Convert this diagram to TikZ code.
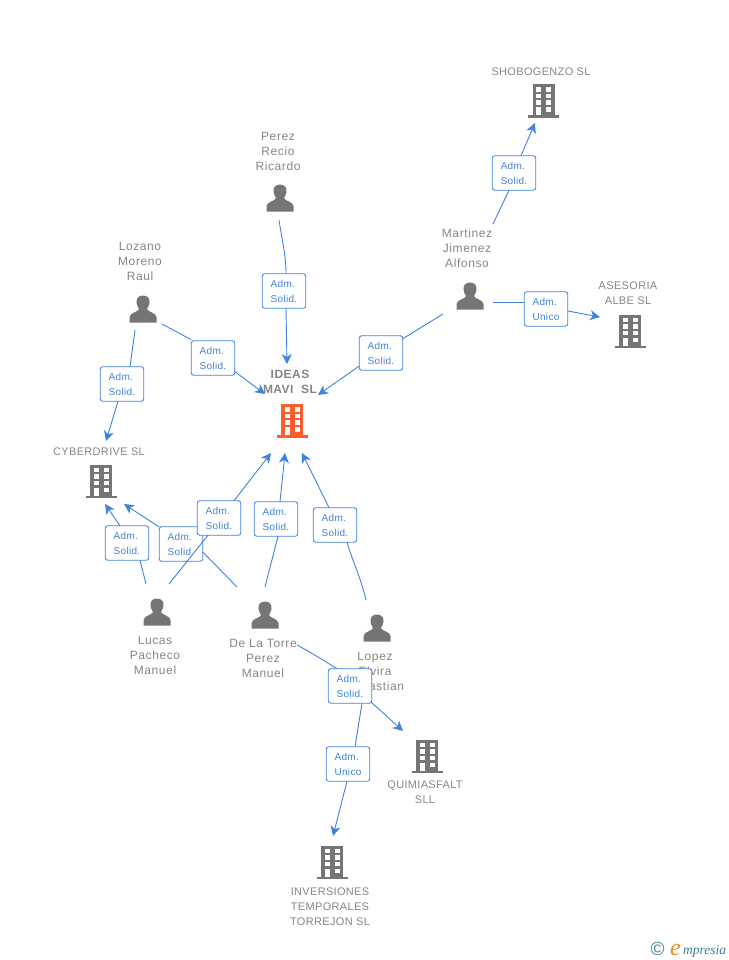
\documentclass[tikz,border=0pt]{standalone}
\usepackage{fontspec}
\setmainfont{Liberation Sans}
\newfontfamily\logofont{Liberation Serif}
\usetikzlibrary{arrows.meta}
\definecolor{linkblue}{HTML}{3F83E0}
\definecolor{labelgray}{HTML}{858585}
\definecolor{icongray}{HTML}{757575}
\definecolor{iconred}{HTML}{FF5C2E}
\definecolor{logoteal}{HTML}{3A7F95}
\definecolor{logoorange}{HTML}{F08A1D}
\tikzset{
  every node/.style={inner sep=0pt, outer sep=0pt},
  link/.style={linkblue, line width=0.9pt},
  linkto/.style={link, -{Stealth[length=10pt, width=10pt, inset=3pt]}},
  rolebox/.style={draw=linkblue, line width=0.9pt, rounded corners=2.5pt, fill=white,
    minimum width=43.5pt, minimum height=34.5pt, text=linkblue, align=left,
    font=\fontsize{10}{15}\selectfont\addfontfeature{LetterSpace=3}},
  person/.style={minimum width=28pt, minimum height=28pt, path picture={
    \begin{scope}[shift={(path picture bounding box.center)}]
      \fill[icongray] (0,-13.5) .. controls (-5,-13.5) and (-7,-10) .. (-6.5,-6)
        .. controls (-6.2,-3) and (-4.5,-1.5) .. (-4,0)
        .. controls (-4.5,3) and (-13,3.5) .. (-13.5,8) -- (-13.5,13.5) -- (13.5,13.5) -- (13.5,8)
        .. controls (13,3.5) and (4.5,3) .. (4,0)
        .. controls (4.5,-1.5) and (6.2,-3) .. (6.5,-6)
        .. controls (7,-10) and (5,-13.5) .. (0,-13.5) -- cycle;
    \end{scope}}},
  building/.style={minimum width=32pt, minimum height=36pt, path picture={
    \begin{scope}[shift={(path picture bounding box.center)}]
      \fill[#1] (-11,-16.5) rectangle (11,15);
      \fill[#1] (-15.5,14.5) rectangle (15.5,17);
      \foreach \yy in {-13.5,-7,-0.5} {
        \fill[white] (-7.5,\yy) rectangle (-2.5,{\yy+4.5});
        \fill[white] (2.5,\yy) rectangle (7.5,{\yy+4.5});
      }
      \fill[white] (-7.5,6.5) rectangle (-2.5,14.5);
      \fill[white] (2.5,6.5) rectangle (7.5,11);
    \end{scope}}},
  building/.default=icongray,
  personname/.style={text=labelgray, align=center, font=\fontsize{12}{15}\selectfont\addfontfeature{LetterSpace=5}},
  firmname/.style={text=labelgray, align=center, font=\fontsize{11}{15}\selectfont\addfontfeature{LetterSpace=3}},
}
\begin{document}
\begin{tikzpicture}[x=1pt, y=-1pt]
    \useasboundingbox (0,0) rectangle (728,960);
    % people
    \node[person] (perez) at (280,198) {};
    \node[person] (lozano) at (143,309) {};
    \node[person] (martinez) at (470,296) {};
    \node[person] (lucas) at (157,612) {};
    \node[person] (torre) at (265,615) {};
    \node[person] (lopez) at (377,628) {};
    \node[personname] (perezname) at (278,151) {Perez\\Recio\\Ricardo};
    \node[personname] (lozanoname) at (140,261) {Lozano\\Moreno\\Raul};
    \node[personname] (martinezname) at (467,248) {Martinez\\Jimenez\\Alfonso};
    \node[personname] (lucasname) at (155,655) {Lucas\\Pacheco\\Manuel};
    \node[personname] (torrename) at (263,658) {De La Torre\\Perez\\Manuel};
    \node[personname] (lopezname) at (375,671) {Lopez\\Elvira\\Sebastian};
    % companies
    \node[building] (shobogenzo) at (543.5,101) {};
    \node[building] (asesoria) at (630,331) {};
    \node[building=iconred] (ideas) at (292,420.5) {};
    \node[building] (cyberdrive) at (101,481) {};
    \node[building] (quimiasfalt) at (427,756) {};
    \node[building] (inversiones) at (332,862) {};
    \node[firmname] (shobogenzoname) at (541,71.5) {SHOBOGENZO SL};
    \node[firmname] (asesorianame) at (628,293) {ASESORIA\\ALBE SL};
    \node[firmname, font=\fontsize{12}{15}\selectfont\bfseries\addfontfeature{LetterSpace=4}] (ideasname) at (290,382) {IDEAS\\MAVI\ \ SL};
    \node[firmname] (cyberdrivename) at (99,451.5) {CYBERDRIVE SL};
    \node[firmname] (quimiasfaltname) at (425,792.5) {QUIMIASFALT\\SLL};
    \node[firmname] (inversionesname) at (330,906.5) {INVERSIONES\\TEMPORALES\\TORREJON SL};
    % role boxes
    \node[rolebox] (roleperez) at (284,291) {Adm.\\Solid.};
    \node[rolebox] (rolelozano) at (213,358) {Adm.\\Solid.};
    \node[rolebox] (rolelozanob) at (122,384) {Adm.\\Solid.};
    \node[rolebox] (rolemartinez) at (381,353) {Adm.\\Solid.};
    \node[rolebox] (rolemartinezb) at (514,173) {Adm.\\Solid.};
    \node[rolebox] (rolemartinezc) at (546,309) {Adm.\\Unico};
    \node[rolebox] (roletorre) at (276,519) {Adm.\\Solid.};
    \node[rolebox] (rolelopez) at (335,525) {Adm.\\Solid.};
    \node[rolebox] (rolelucasb) at (127,543) {Adm.\\Solid.};
    \node[rolebox] (roletorreb) at (181,544) {Adm.\\Solid.};
    \node[rolebox] (rolelucas) at (219,518) {Adm.\\Solid.};
    \node[rolebox] (roletorrec) at (350,686) {Adm.\\Solid.};
    \node[rolebox] (roletorred) at (348,764) {Adm.\\Unico};
    % free ends
    \coordinate (a1) at (279,220);   \coordinate (e1) at (287,364);
    \coordinate (a2) at (162,324);   \coordinate (e2) at (265,394);
    \coordinate (a3) at (135,330);   \coordinate (e3) at (106,441);
    \coordinate (a4) at (443,314);   \coordinate (e4) at (318,395);
    \coordinate (a5) at (493,224);   \coordinate (e5) at (535,123);
    \coordinate (a6) at (493,302);   \coordinate (e6) at (600,317);
    \coordinate (a7) at (169,584);   \coordinate (e7) at (271,453);
    \coordinate (a8) at (265,587);   \coordinate (e8) at (285,453);
    \coordinate (a9) at (366,600);   \coordinate (e9) at (302,453);
    \coordinate (a10) at (146,584);  \coordinate (e10) at (105,504);
    \coordinate (a11) at (237,587);  \coordinate (e11) at (124,504);
    \coordinate (a12) at (297,645);  \coordinate (e12) at (403,731);
    \coordinate (e13) at (333,836);
    % links
    \draw[link] (a1) .. controls (282,240) and (286,255) .. ([xshift=2pt]roleperez.north);
    \draw[linkto] ([xshift=2pt]roleperez.south) -- (e1);
    \draw[link] (a2) -- ([xshift=-21.75pt,yshift=1pt]rolelozano.north);
    \draw[linkto] ([xshift=21pt,yshift=-13pt]rolelozano.center) -- (e2);
    \draw[link] (a3) -- ([xshift=8pt]rolelozanob.north);
    \draw[linkto] ([xshift=-4pt]rolelozanob.south) -- (e3);
    \draw[link] (a4) -- ([xshift=21.75pt,yshift=-3pt]rolemartinez.north);
    \draw[linkto] ([xshift=-21.75pt,yshift=-13pt]rolemartinez.center) -- (e4);
    \draw[link] (a5) -- ([xshift=-5pt]rolemartinezb.south);
    \draw[linkto] ([xshift=7pt]rolemartinezb.north) -- (e5);
    \draw[link] (a6) -- ([yshift=7pt]rolemartinezc.west);
    \draw[linkto] ([yshift=-2pt]rolemartinezc.east) -- (e6);
    \draw[link] (a8) -- ([xshift=2pt]roletorre.south);
    \draw[linkto] ([xshift=4pt]roletorre.north) -- (e8);
    \draw[link] (a9) .. controls (360,575) and (352,560) .. ([xshift=12pt]rolelopez.south);
    \draw[linkto] ([xshift=-6pt]rolelopez.north) -- (e9);
    \draw[link] (a10) -- ([xshift=13pt]rolelucasb.south);
    \draw[linkto] ([xshift=-7pt]rolelucasb.north) -- (e10);
    \draw[link] (a11) -- ([xshift=21.75pt,yshift=-8pt]roletorreb.center);
    \draw[linkto] ([xshift=-21.75pt,yshift=17pt]roletorreb.center) -- (e11);
    \draw[link] (a7) -- ([xshift=-11pt]rolelucas.south);
    \draw[linkto] ([xshift=15pt]rolelucas.north) -- (e7);
    \draw[link] (a12) .. controls (310,652) and (325,661) .. ([xshift=-13pt]roletorrec.north);
    \draw[linkto] ([xshift=21pt,yshift=-16pt]roletorrec.center) -- (e12);
    \draw[link] ([xshift=12pt]roletorrec.south) -- ([xshift=7pt]roletorred.north);
    \draw[linkto] ([xshift=-1pt]roletorred.south) -- (e13);
    % logo
    \node[text=logoteal, font=\fontsize{19}{19}\selectfont] (logoc) at (657.5,949) {\textcopyright};
    \node[text=logoorange, font=\logofont\fontsize{24}{24}\selectfont\itshape, anchor=base west] (logoe) at (670,955) {e};
    \node[text=logoteal, font=\logofont\fontsize{13.5}{14}\selectfont\itshape, anchor=base west] (logotext) at (683,954) {mpresia};
\end{tikzpicture}
\end{document}
